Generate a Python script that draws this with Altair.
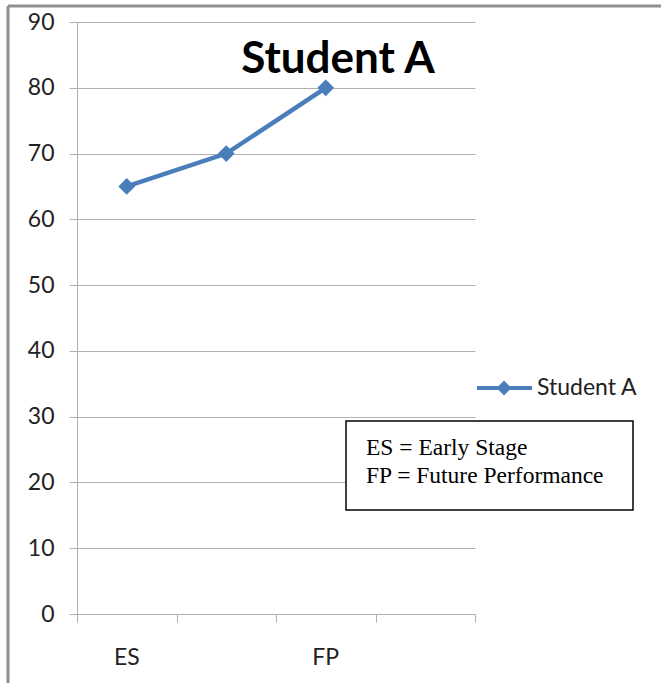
import altair as alt
import pandas as pd

# ---- data ----
categories = ["ES", "", "FP", ""]
scores = [65, 70, 80, None]
series_name = "Student A"
note_lines = ["ES = Early Stage", "FP = Future Performance"]
y_ticks = [0, 10, 20, 30, 40, 50, 60, 70, 80, 90]

W, H = 398, 592
BLUE = "#4A7EBB"
GRID = "#b0b0b0"
FONT = "Lato"

pos = [i + 0.5 for i in range(len(categories))]
df = pd.DataFrame({"pos": pos, "cat": categories, "score": scores}).dropna()
lab = pd.DataFrame({"pos": pos, "cat": categories})
lab = lab[lab["cat"] != ""]
one = pd.DataFrame({"k": [0]})

xscale = alt.Scale(domain=[0, len(categories)], nice=False, zero=False)
yscale = alt.Scale(domain=[0, 90], nice=False)

xaxis = alt.Axis(values=list(range(len(categories) + 1)), labels=False, grid=False,
                 domainColor=GRID, tickColor=GRID, tickSize=8, title=None)
yaxis = alt.Axis(values=y_ticks, grid=True, gridColor=GRID, domainColor=GRID,
                 tickColor=GRID, tickSize=8, labelFont=FONT, labelFontSize=23,
                 labelColor="#222222", labelPadding=15, title=None)

line = alt.Chart(df).mark_line(color=BLUE, strokeWidth=4.5).encode(
    x=alt.X("pos:Q", scale=xscale, axis=xaxis),
    y=alt.Y("score:Q", scale=yscale, axis=yaxis),
)
pts = alt.Chart(df).mark_point(shape="diamond", filled=True, color=BLUE, size=280, opacity=1).encode(
    x=alt.X("pos:Q", scale=xscale),
    y=alt.Y("score:Q", scale=yscale),
)
xlabels = alt.Chart(lab).mark_text(font=FONT, fontSize=23, color="#222222", baseline="middle").encode(
    x=alt.X("pos:Q", scale=xscale),
    y=alt.value(H + 44),
    text="cat:N",
)

title = alt.Chart(one).mark_text(font=FONT, fontSize=44, fontWeight="bold", color="black",
                                 baseline="alphabetic", align="center", text=series_name).encode(
    x=alt.value(261), y=alt.value(51))

# legend
leg_line = alt.Chart(one).mark_rule(color=BLUE, strokeWidth=4).encode(
    x=alt.value(400), x2=alt.value(455), y=alt.value(366))
leg_pt = alt.Chart(one).mark_point(shape="diamond", filled=True, color=BLUE, size=220, opacity=1).encode(
    x=alt.value(427), y=alt.value(366))
leg_txt = alt.Chart(one).mark_text(font=FONT, fontSize=23, color="#222222", align="left",
                                   baseline="middle", text=series_name).encode(
    x=alt.value(460), y=alt.value(366))

# note box
box = alt.Chart(one).mark_rect(fill="white", stroke="black", strokeWidth=1.5).encode(
    x=alt.value(269), x2=alt.value(556), y=alt.value(399), y2=alt.value(488))
note_df = pd.DataFrame({"t": note_lines, "yy": [433, 461]})
notes = alt.Chart(note_df).mark_text(font="Liberation Serif", fontSize=23.5, color="black",
                                     align="left", baseline="alphabetic").encode(
    x=alt.value(289), y=alt.Y("yy:Q", scale=None), text="t:N")

# frame
top_border = alt.Chart(one).mark_rule(color="#8f8f8f", strokeWidth=3).encode(
    x=alt.value(-69), x2=alt.value(600), y=alt.value(-16))
left_border = alt.Chart(one).mark_rule(color="#8f8f8f", strokeWidth=3).encode(
    x=alt.value(-69), y=alt.value(-16), y2=alt.value(680))

chart = alt.layer(
    line, pts, xlabels, title, leg_line, leg_pt, leg_txt, box, notes, top_border, left_border
).properties(
    width=W, height=H,
    autosize=alt.AutoSizeParams(type="none"),
    padding={"left": 77, "top": 22, "right": 186, "bottom": 69},
    background="white",
).configure_view(stroke=None)

chart.save("out.html", embed_options={"renderer": "svg", "actions": False})
